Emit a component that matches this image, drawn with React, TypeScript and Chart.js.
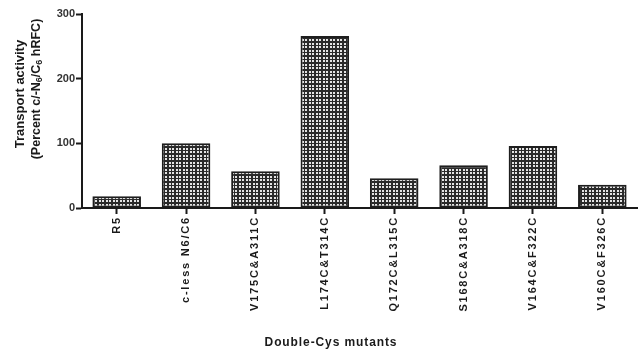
import React, { useEffect, useRef } from "react";
import { Chart, registerables } from "chart.js";

Chart.register(...registerables);

const categories = [
  "R5",
  "c-less N6/C6",
  "V175C&A311C",
  "L174C&T314C",
  "Q172C&L315C",
  "S168C&A318C",
  "V164C&F322C",
  "V160C&F326C",
];
const activity = [18, 100, 57, 266, 46, 66, 96, 36];
const yMin = 0;
const yMax = 300;
const yStep = 100;
const yTitleLine1: [string, boolean][] = [["Transport activity", false]];
const yTitleLine2: [string, boolean][] = [
  ["(Percent c/-N", false],
  ["6", true],
  ["/C", false],
  ["6", true],
  [" hRFC)", false],
];
const xTitle = "Double-Cys mutants";

const FONT = "'Liberation Sans', Arial, sans-serif";

function makePattern(ctx: CanvasRenderingContext2D) {
  const c = document.createElement("canvas");
  c.width = 7;
  c.height = 7;
  const p = c.getContext("2d")!;
  p.fillStyle = "#2a2a2a";
  p.fillRect(0, 0, 7, 7);
  p.fillStyle = "#e4e4e4";
  const offs = [1, 4];
  offs.forEach((ox) =>
    offs.forEach((oy) => {
      p.fillRect(ox, oy, 2, 2);
    })
  );
  return ctx.createPattern(c, "repeat");
}

function drawRotatedLine(
  ctx: CanvasRenderingContext2D,
  segs: [string, boolean][],
  cx: number,
  cy: number,
  size: number
) {
  const subSize = Math.round(size * 0.72);
  const widths = segs.map(([t, sub]) => {
    ctx.font = `bold ${sub ? subSize : size}px ${FONT}`;
    return ctx.measureText(t).width;
  });
  const total = widths.reduce((a, b) => a + b, 0);
  ctx.save();
  ctx.translate(cx, cy);
  ctx.rotate(-Math.PI / 2);
  ctx.textBaseline = "middle";
  ctx.textAlign = "left";
  ctx.fillStyle = "#1a1a1a";
  let x = -total / 2;
  segs.forEach(([t, sub], i) => {
    ctx.font = `bold ${sub ? subSize : size}px ${FONT}`;
    ctx.fillText(t, x, sub ? 3 : 0);
    x += widths[i];
  });
  ctx.restore();
}

const spacingPlugin = {
  id: "spacingAndTitles",
  beforeDraw(chart: any) {
    (chart.ctx as any).letterSpacing = "1.8px";
  },
  beforeDatasetsDraw(chart: any) {
    (chart.ctx as any).letterSpacing = "0px";
  },
  afterDraw(chart: any) {
    const ctx = chart.ctx as CanvasRenderingContext2D;
    ctx.save();
    (ctx as any).letterSpacing = "0px";
    drawRotatedLine(ctx, yTitleLine1, 20, 94, 13);
    drawRotatedLine(ctx, yTitleLine2, 37, 89, 12.5);
    (ctx as any).letterSpacing = "0.9px";
    ctx.font = `bold 12px ${FONT}`;
    ctx.textAlign = "center";
    ctx.textBaseline = "middle";
    ctx.fillStyle = "#1a1a1a";
    ctx.fillText(xTitle, 331, 343);
    ctx.restore();
  },
};

export default function App() {
  const ref = useRef<HTMLCanvasElement | null>(null);
  useEffect(() => {
    const canvas = ref.current!;
    const ctx = canvas.getContext("2d")!;
    const pattern = makePattern(ctx);
    const chart = new Chart(canvas, {
      type: "bar",
      data: {
        labels: categories,
        datasets: [
          {
            data: activity,
            backgroundColor: pattern as any,
            borderColor: "#1e1e1e",
            borderWidth: 2,
            borderSkipped: false,
            barPercentage: 1,
            categoryPercentage: 0.7,
          },
        ],
      },
      options: {
        animation: false,
        responsive: true,
        maintainAspectRatio: false,
        layout: { padding: { top: 14, right: 2, bottom: 0, left: 0 } },
        plugins: {
          legend: { display: false },
          tooltip: { enabled: false },
          title: { display: false },
        },
        scales: {
          x: {
            grid: {
              display: true,
              drawOnChartArea: false,
              drawTicks: true,
              offset: false,
              tickLength: 6,
              tickWidth: 2,
              tickColor: "#1a1a1a",
            },
            border: { display: true, color: "#1a1a1a", width: 2 },
            ticks: {
              maxRotation: 90,
              minRotation: 90,
              autoSkip: false,
              padding: 2,
              color: "#1a1a1a",
              font: { family: FONT, size: 11, weight: "bold" },
            },
            afterFit: (scale: any) => {
              scale.height = 142;
            },
          },
          y: {
            min: yMin,
            max: yMax,
            grid: {
              display: true,
              drawOnChartArea: false,
              drawTicks: true,
              tickLength: 6,
              tickWidth: 2,
              tickColor: "#1a1a1a",
            },
            border: { display: true, color: "#1a1a1a", width: 2 },
            ticks: {
              z: 1,
              stepSize: yStep,
              padding: 1,
              color: "#333333",
              font: { family: FONT, size: 11, weight: "bold" },
            },
            afterFit: (scale: any) => {
              scale.width = 82;
            },
          },
        },
      },
      plugins: [spacingPlugin],
    });
    return () => chart.destroy();
  }, []);
  return (
    <div
      style={{
        position: "fixed",
        left: 0,
        top: 0,
        width: 639,
        height: 350,
        background: "#fff",
      }}
    >
      <canvas ref={ref} />
    </div>
  );
}
